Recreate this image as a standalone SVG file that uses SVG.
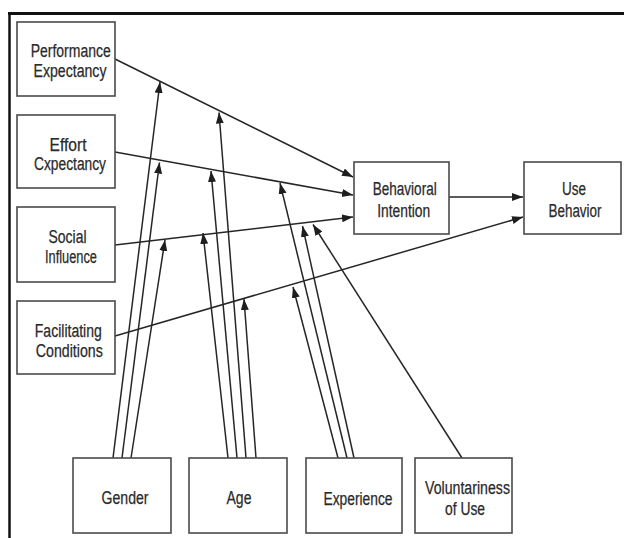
<svg xmlns="http://www.w3.org/2000/svg" width="624" height="538" viewBox="0 0 624 538">
<defs>
<marker id="ah" markerUnits="userSpaceOnUse" markerWidth="12" markerHeight="9" refX="11" refY="4" orient="auto">
<path d="M0,0 L11,4 L0,8 z" fill="#1e1e1e"/>
</marker>
<style>
.box{fill:#fff;stroke:#4a4a4a;stroke-width:1.6}
.t{font-family:"Liberation Sans",Arial,sans-serif;font-size:18px;fill:#2a2a2a;stroke:#2a2a2a;stroke-width:0.25;text-anchor:middle}
.c line{stroke:#262626;stroke-width:1.5;fill:none;marker-end:url(#ah)}
.frame{stroke:#111;fill:none}
</style>
</defs>
<rect width="624" height="538" fill="#fff"/>
<line class="frame" x1="8" y1="13.5" x2="624" y2="13.5" stroke-width="3"/>
<line class="frame" x1="9.5" y1="12" x2="9.5" y2="538" stroke-width="2.5"/>

<g id="connectors" class="c">
<line x1="115" y1="59" x2="353" y2="177"/>
<line x1="115" y1="152" x2="353" y2="195"/>
<line x1="115" y1="245" x2="353" y2="217"/>
<line x1="115" y1="336" x2="523" y2="217"/>
<line x1="449" y1="197" x2="523" y2="197"/>
<line x1="113" y1="458" x2="160" y2="82"/>
<line x1="122" y1="458" x2="159.5" y2="162.5"/>
<line x1="131" y1="458" x2="165" y2="240"/>
<line x1="228" y1="458" x2="203" y2="233"/>
<line x1="237" y1="458" x2="211" y2="171"/>
<line x1="246" y1="458" x2="219" y2="112.5"/>
<line x1="256" y1="458" x2="244" y2="299"/>
<line x1="338" y1="458" x2="293" y2="287"/>
<line x1="347" y1="458" x2="280" y2="183"/>
<line x1="354" y1="458" x2="302.5" y2="226"/>
<line x1="462" y1="458" x2="313" y2="224.5"/>
</g>

<g id="pe"><rect class="box" x="17" y="22" width="98" height="74"/>
<text class="t" x="70.7" y="57" textLength="80" lengthAdjust="spacingAndGlyphs">Performance</text>
<text class="t" x="70" y="77" textLength="73" lengthAdjust="spacingAndGlyphs">Expectancy</text></g>

<g id="ee"><rect class="box" x="17" y="115" width="98" height="73"/>
<text class="t" x="68" y="150.5" textLength="37" lengthAdjust="spacingAndGlyphs">Effort</text>
<text class="t" x="70" y="170" textLength="72" lengthAdjust="spacingAndGlyphs">Cxpectancy</text></g>

<g id="si"><rect class="box" x="17" y="207" width="98" height="75"/>
<text class="t" x="67.5" y="243" textLength="38" lengthAdjust="spacingAndGlyphs">Social</text>
<text class="t" x="71" y="263" textLength="52" lengthAdjust="spacingAndGlyphs">Influence</text></g>

<g id="fc"><rect class="box" x="17" y="301" width="98" height="73"/>
<text class="t" x="68.3" y="337" textLength="67" lengthAdjust="spacingAndGlyphs">Facilitating</text>
<text class="t" x="69.3" y="357" textLength="67" lengthAdjust="spacingAndGlyphs">Conditions</text></g>

<g id="bi"><rect class="box" x="354" y="162" width="95" height="72"/>
<text class="t" x="404.7" y="195" textLength="64" lengthAdjust="spacingAndGlyphs">Behavioral</text>
<text class="t" x="403.7" y="217" textLength="53" lengthAdjust="spacingAndGlyphs">Intention</text></g>

<g id="ub"><rect class="box" x="524" y="162" width="97" height="72"/>
<text class="t" x="574" y="195" textLength="24" lengthAdjust="spacingAndGlyphs">Use</text>
<text class="t" x="575" y="217" textLength="53" lengthAdjust="spacingAndGlyphs">Behavior</text></g>

<g id="gender"><rect class="box" x="73" y="458" width="98" height="75"/>
<text class="t" x="125" y="504" textLength="47" lengthAdjust="spacingAndGlyphs">Gender</text></g>

<g id="age"><rect class="box" x="189" y="458" width="98" height="75"/>
<text class="t" x="239" y="504" textLength="25" lengthAdjust="spacingAndGlyphs">Age</text></g>

<g id="experience"><rect class="box" x="306" y="458" width="96" height="75"/>
<text class="t" x="358" y="504.5" textLength="69" lengthAdjust="spacingAndGlyphs">Experience</text></g>

<g id="voluntariness"><rect class="box" x="415" y="458" width="97" height="75"/>
<text class="t" x="467.5" y="493.5" textLength="85" lengthAdjust="spacingAndGlyphs">Voluntariness</text>
<text class="t" x="465" y="515" textLength="40" lengthAdjust="spacingAndGlyphs">of Use</text></g>
</svg>
